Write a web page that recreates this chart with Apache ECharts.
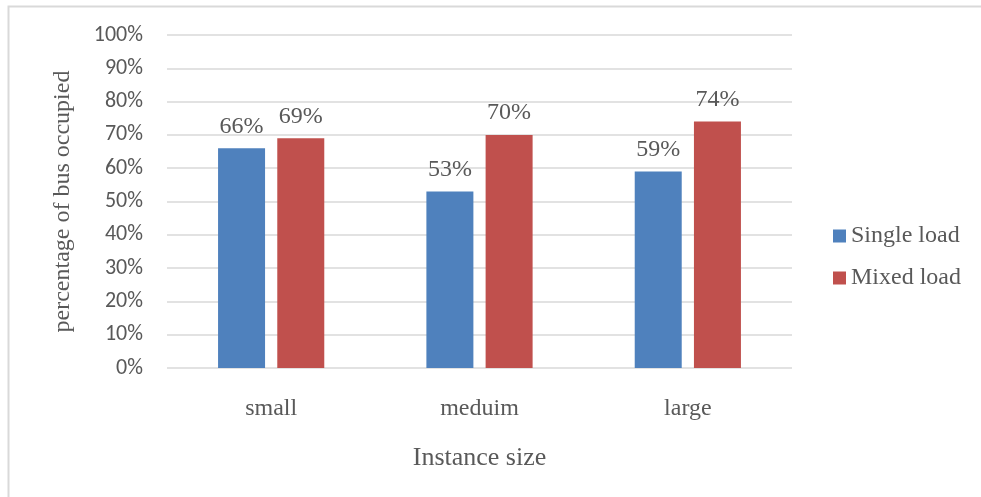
<!DOCTYPE html>
<html>
<head>
<meta charset="utf-8">
<script src="https://cdn.jsdelivr.net/npm/echarts@6/dist/echarts.min.js"></script>
<style>
  html, body { margin: 0; padding: 0; background: #ffffff; }
  #chart { width: 981px; height: 497px; }
</style>
</head>
<body>
<div id="chart"></div>
<script>
// Instance sizes on the category axis
const categories = ['small', 'meduim', 'large'];
// Share of bus occupied (%), per load type
const singleLoad = [66, 53, 59];
const mixedLoad = [69, 70, 74];
// Value axis ticks (%)
const yTicks = [0, 10, 20, 30, 40, 50, 60, 70, 80, 90, 100];

const serif = '"Liberation Serif", "Times New Roman", serif';
const sans = 'Carlito, Lato, "Open Sans", sans-serif';
const textColor = '#595959';

const chart = echarts.init(document.getElementById('chart'));
chart.setOption({
  animation: false,
  backgroundColor: '#ffffff',
  graphic: [{
    type: 'rect',
    shape: { x: 8.5, y: 6.5, width: 1200, height: 800 },
    style: { fill: 'none', stroke: '#d9d9d9', lineWidth: 2 },
    silent: true
  }],
  grid: { left: 167, right: 189, top: 35, bottom: 129 },
  legend: {
    orient: 'vertical',
    left: 828,
    top: 219,
    itemWidth: 13,
    itemHeight: 13,
    itemGap: 18,
    icon: 'rect',
    textStyle: { fontFamily: serif, fontSize: 24, color: textColor },
    data: ['Single load', 'Mixed load']
  },
  xAxis: {
    type: 'category',
    data: categories,
    name: 'Instance size',
    nameLocation: 'middle',
    nameGap: 77,
    nameTextStyle: { fontFamily: serif, fontSize: 26, color: textColor },
    axisLine: { show: false },
    axisTick: { show: false },
    axisLabel: { fontFamily: serif, fontSize: 24, color: textColor, margin: 29 }
  },
  yAxis: {
    type: 'value',
    min: yTicks[0],
    max: yTicks[yTicks.length - 1],
    interval: yTicks[1] - yTicks[0],
    name: 'percentage of bus occupied',
    nameLocation: 'middle',
    nameGap: 92,
    nameTextStyle: { fontFamily: serif, fontSize: 24, color: textColor },
    axisLine: { show: false },
    axisTick: { show: false },
    axisLabel: {
      fontFamily: sans, fontSize: 22, color: textColor, margin: 24,
      formatter: v => v + '%'
    },
    splitLine: { lineStyle: { color: '#d9d9d9', width: 1.5 } }
  },
  series: [
    {
      name: 'Single load',
      type: 'bar',
      data: singleLoad,
      barWidth: 47,
      barGap: '26%',
      itemStyle: { color: '#4f81bd' },
      label: {
        show: true, position: 'top', distance: 10,
        fontFamily: serif, fontSize: 24, color: textColor,
        formatter: p => p.value + '%'
      }
    },
    {
      name: 'Mixed load',
      type: 'bar',
      data: mixedLoad,
      barWidth: 47,
      itemStyle: { color: '#c0504d' },
      label: {
        show: true, position: 'top', distance: 10,
        fontFamily: serif, fontSize: 24, color: textColor,
        formatter: p => p.value + '%'
      }
    }
  ]
});
</script>
</body>
</html>
